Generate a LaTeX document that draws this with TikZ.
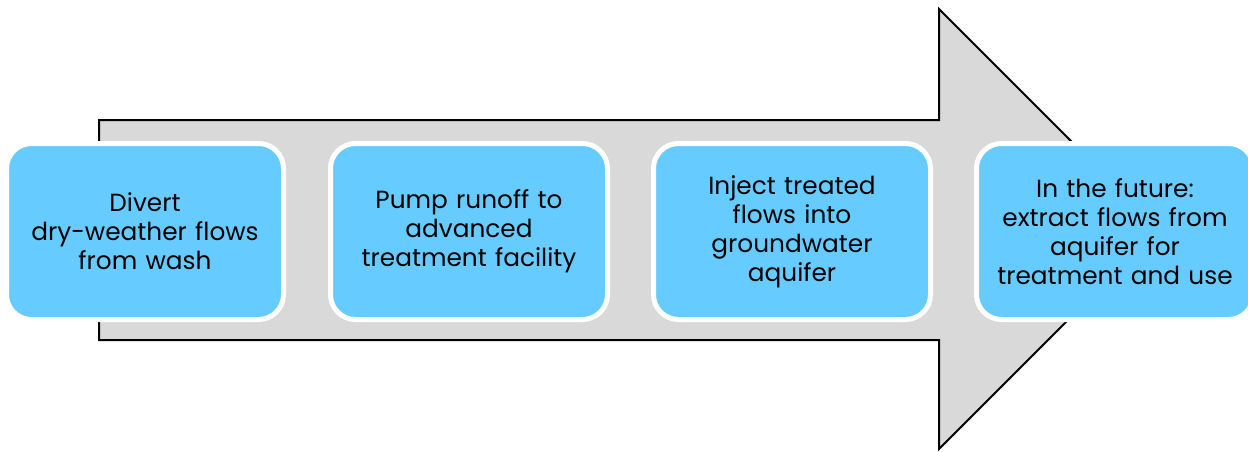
\documentclass[tikz,border=0pt]{standalone}
\usepackage{fontspec}
\setmainfont{Poppins}
\definecolor{boxblue}{HTML}{66CCFF}
\definecolor{arrowgray}{HTML}{D9D9D9}
\begin{document}
\begin{tikzpicture}[x=0.5pt,y=-0.5pt,
  stepbox/.style={draw=white, line width=2.5pt, fill=boxblue, rounded corners=12.5pt,
    minimum width=138.5pt, minimum height=88pt, inner sep=0pt,
    text width=134pt, align=center,
    font=\fontsize{12.4pt}{14.5pt}\selectfont, text=black},
  bigarrow/.style={draw=black, line width=1pt, fill=arrowgray}]
\useasboundingbox (0,0) rectangle (1248,451);
\clip (0,0) rectangle (1248,451);
\draw[bigarrow] (99,120) -- (939,120) -- (939,9) -- (1159,229) -- (939,449) -- (939,340) -- (99,340) -- cycle;
\node[stepbox] (s1) at (145,231.5) {Divert\\dry-weather flows\\from wash};
\node[stepbox] (s2) at (469,231.5) {Pump runoff to\\advanced\\treatment facility};
\node[stepbox] (s3) at (792,231.5) {Inject treated\\flows into\\groundwater\\aquifer};
\node[stepbox] (s4) at (1115,231.5) {In the future:\\extract flows from\\aquifer for\\treatment and use};
\end{tikzpicture}
\end{document}
